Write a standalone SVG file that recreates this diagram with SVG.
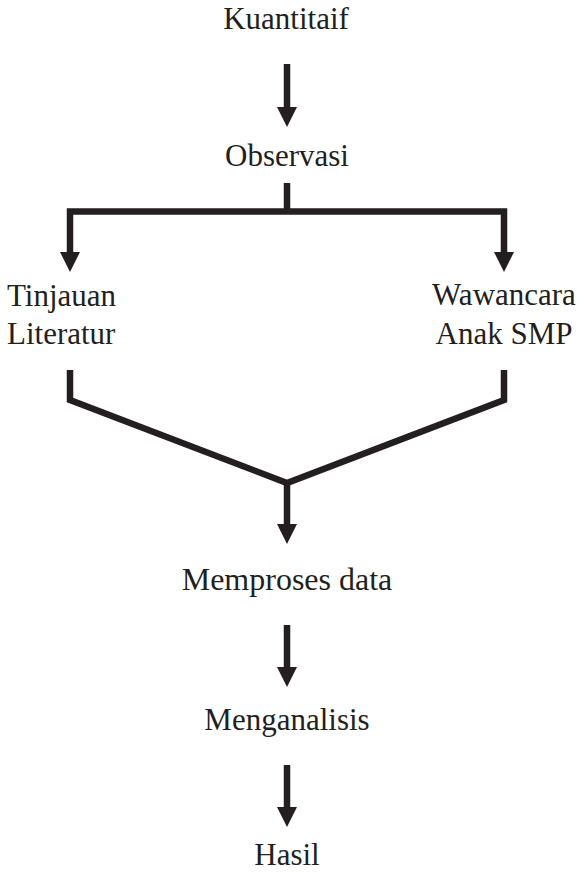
<svg xmlns="http://www.w3.org/2000/svg" width="577" height="873" viewBox="0 0 577 873">
<style>
  .lbl { font-family: "Liberation Serif", "Times New Roman", serif; font-size: 31px; fill: #231f20; }
  .c { text-anchor: middle; }
  .ln { fill: none; stroke: #231f20; stroke-width: 6.5; stroke-linejoin: miter; stroke-linecap: butt; }
</style>
<defs>
  <marker id="ah" viewBox="0 -10 20 20" refX="4" refY="0" markerWidth="20" markerHeight="20" markerUnits="userSpaceOnUse" orient="auto-start-reverse">
    <path d="M0,-10 L20,0 L0,10 z" fill="#231f20"/>
  </marker>
</defs>
<rect width="577" height="873" fill="#ffffff"/>
<g id="connectors">
  <path class="ln" d="M287,64 V111" marker-end="url(#ah)"/>
  <path class="ln" d="M287,183 V211.5"/>
  <path class="ln" d="M70,256 V211.5 H504 V256" marker-start="url(#ah)" marker-end="url(#ah)"/>
  <path class="ln" d="M70,370 V400 L287,483 L504,400 V370"/>
  <path class="ln" d="M287,483 V528" marker-end="url(#ah)"/>
  <path class="ln" d="M287,625 V671" marker-end="url(#ah)"/>
  <path class="ln" d="M287,765 V811" marker-end="url(#ah)"/>
</g>
<g id="kuantitaif"><text class="lbl c" x="286" y="29">Kuantitaif</text></g>
<g id="observasi"><text class="lbl c" x="287" y="166">Observasi</text></g>
<g id="tinjauan"><text class="lbl" x="7" y="306">Tinjauan</text><text class="lbl" x="7" y="344">Literatur</text></g>
<g id="wawancara"><text class="lbl c" x="504" y="305">Wawancara</text><text class="lbl c" x="504" y="344">Anak SMP</text></g>
<g id="memproses"><text class="lbl c" x="287" y="590" style="font-size:32px">Memproses data</text></g>
<g id="menganalisis"><text class="lbl c" x="287" y="730">Menganalisis</text></g>
<g id="hasil"><text class="lbl c" x="287" y="865">Hasil</text></g>
</svg>
